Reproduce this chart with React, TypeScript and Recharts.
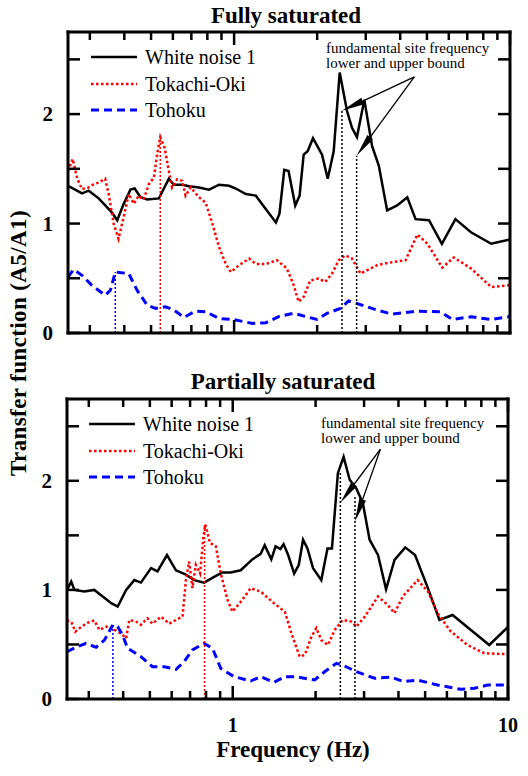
import React from "react"
import { LineChart, Line, XAxis, YAxis, ReferenceLine, Legend } from "recharts"

type Pair = [number, number]

const FONT = "'Liberation Serif', 'Times New Roman', serif"

const X_TICKS = [0.3, 0.4, 0.5, 0.6, 0.7, 0.8, 0.9, 1, 2, 3, 4, 5, 6, 7, 8, 9, 10]
const X_LABELS = [1, 10]
const Y_TICKS = [0, 0.5, 1, 1.5, 2, 2.5]
const Y_LABELS = [0, 1, 2]

const NAMES = ["White noise 1", "Tokachi-Oki", "Tohoku"]

// [frequency Hz, A5/A1]
const FULL_WN: Pair[] = [
  [0.25, 1.345], [0.281, 1.275], [0.297, 1.3], [0.323, 1.23], [0.361, 1.1], [0.377, 1.03],
  [0.398, 1.18], [0.421, 1.31], [0.436, 1.32], [0.458, 1.24], [0.484, 1.22], [0.534, 1.23],
  [0.58, 1.41], [0.605, 1.355], [0.649, 1.355], [0.686, 1.34], [0.746, 1.33], [0.811, 1.31],
  [0.882, 1.355], [0.959, 1.345], [1.014, 1.32], [1.103, 1.27], [1.199, 1.255], [1.304, 1.13],
  [1.418, 1.01], [1.46, 1.09], [1.52, 1.49], [1.575, 1.48], [1.666, 1.165], [1.727, 1.255],
  [1.787, 1.63], [1.847, 1.66], [1.932, 1.78], [2.083, 1.63], [2.184, 1.41], [2.296, 1.66],
  [2.414, 2.38], [2.565, 2.03], [2.675, 1.875], [2.788, 1.79], [2.965, 2.13], [3.162, 1.71],
  [3.345, 1.53], [3.587, 1.12], [3.9, 1.165], [4.243, 1.24], [4.547, 1.04], [5.086, 1.03],
  [5.664, 0.815], [6.34, 1.04], [7.22, 0.92], [8.55, 0.815], [10, 0.855],
]
const FULL_TO: Pair[] = [
  [0.25, 1.48], [0.26, 1.59], [0.27, 1.41], [0.281, 1.315], [0.297, 1.33], [0.31, 1.36],
  [0.323, 1.375], [0.341, 1.41], [0.351, 1.27], [0.366, 1.0], [0.381, 0.86], [0.398, 1.06],
  [0.415, 1.27], [0.433, 1.18], [0.451, 1.255], [0.47, 1.22], [0.491, 1.36], [0.512, 1.42],
  [0.526, 1.63], [0.54, 1.79], [0.56, 1.69], [0.58, 1.48], [0.596, 1.33], [0.622, 1.405],
  [0.649, 1.39], [0.667, 1.255], [0.696, 1.33], [0.746, 1.24], [0.789, 1.19], [0.834, 1.0],
  [0.882, 0.785], [0.933, 0.63], [0.973, 0.557], [1.043, 0.62], [1.134, 0.68], [1.199, 0.63],
  [1.304, 0.63], [1.43, 0.665], [1.553, 0.59], [1.643, 0.44], [1.713, 0.285], [1.787, 0.33],
  [1.888, 0.48], [2.025, 0.497], [2.14, 0.467], [2.265, 0.543], [2.394, 0.664], [2.53, 0.709],
  [2.675, 0.68], [2.871, 0.543], [3.3, 0.62], [3.79, 0.65], [4.18, 0.664], [4.62, 0.9],
  [5.02, 0.815], [5.68, 0.597], [6.26, 0.69], [7.22, 0.59], [8.55, 0.42], [10, 0.436],
]
const FULL_TH: Pair[] = [
  [0.25, 0.51], [0.262, 0.58], [0.281, 0.527], [0.305, 0.436], [0.341, 0.345], [0.356, 0.39],
  [0.371, 0.557], [0.415, 0.543], [0.445, 0.39], [0.484, 0.255], [0.519, 0.224], [0.564, 0.24],
  [0.605, 0.21], [0.658, 0.143], [0.725, 0.2], [0.789, 0.194], [0.882, 0.133], [0.986, 0.124],
  [1.166, 0.088], [1.304, 0.094], [1.45, 0.15], [1.64, 0.18], [1.996, 0.124], [2.17, 0.179],
  [2.426, 0.224], [2.6, 0.294], [2.788, 0.27], [3.3, 0.209], [3.73, 0.173], [4.62, 0.2],
  [5.6, 0.194], [6.18, 0.124], [7.22, 0.148], [8.55, 0.124], [10, 0.15],
]
const FULL_PEAK_TH: Pair = [0.371, 0.557]
const FULL_PEAK_TO: Pair = [0.54, 1.79]
const FULL_BOUNDS: Pair[] = [[2.46, 2.03], [2.78, 1.62]]
const FULL_TIPS: Pair[] = [[2.46, 2.03], [2.78, 1.62]]
const FULL_NOTE: Pair = [4.5, 2.34]

const PART_WN: Pair[] = [
  [0.25, 1.0], [0.259, 1.076], [0.266, 1.0], [0.289, 0.985], [0.314, 1.0], [0.337, 0.94],
  [0.362, 0.878], [0.382, 0.847], [0.41, 1.0], [0.439, 1.09], [0.464, 1.067], [0.505, 1.2],
  [0.533, 1.17], [0.577, 1.32], [0.622, 1.18], [0.676, 1.14], [0.724, 1.09], [0.787, 1.067],
  [0.856, 1.12], [0.918, 1.16], [0.983, 1.16], [1.069, 1.18], [1.178, 1.28], [1.263, 1.33],
  [1.306, 1.41], [1.381, 1.28], [1.431, 1.4], [1.49, 1.375], [1.53, 1.42], [1.59, 1.32],
  [1.672, 1.15], [1.738, 1.23], [1.801, 1.46], [1.868, 1.38], [1.958, 1.2], [2.098, 1.09],
  [2.209, 1.38], [2.293, 1.38], [2.41, 2.07], [2.528, 2.22], [2.66, 2.01], [2.812, 1.93],
  [2.97, 1.795], [3.142, 1.46], [3.371, 1.32], [3.606, 1.006], [3.871, 1.275], [4.234, 1.39],
  [4.596, 1.32], [5.116, 1.016], [5.635, 0.725], [6.29, 0.77], [7.33, 0.633], [8.55, 0.495],
  [10, 0.66],
]
const PART_TO: Pair[] = [
  [0.25, 0.72], [0.259, 0.71], [0.268, 0.617], [0.282, 0.663], [0.298, 0.7], [0.314, 0.72],
  [0.328, 0.633], [0.352, 0.67], [0.371, 0.636], [0.393, 0.6], [0.41, 0.557], [0.421, 0.725],
  [0.445, 0.71], [0.464, 0.68], [0.49, 0.74], [0.511, 0.69], [0.549, 0.755], [0.588, 0.69],
  [0.622, 0.725], [0.657, 0.755], [0.676, 1.09], [0.694, 1.26], [0.714, 1.016], [0.734, 1.23],
  [0.761, 1.15], [0.783, 1.49], [0.795, 1.6], [0.827, 1.43], [0.868, 1.4], [0.905, 1.15],
  [0.957, 0.91], [0.997, 0.8], [1.069, 0.89], [1.162, 1.016], [1.263, 0.985], [1.412, 0.878],
  [1.546, 0.8], [1.635, 0.6], [1.751, 0.388], [1.828, 0.404], [1.932, 0.572], [2.013, 0.65],
  [2.098, 0.54], [2.219, 0.495], [2.346, 0.633], [2.509, 0.725], [2.695, 0.71], [2.813, 0.663],
  [3.018, 0.755], [3.371, 0.94], [3.655, 0.862], [3.871, 0.787], [4.145, 0.94], [4.694, 1.09],
  [5.116, 0.985], [5.547, 0.787], [6.194, 0.62], [7.125, 0.495], [8.193, 0.42], [10, 0.41],
]
const PART_TH: Pair[] = [
  [0.25, 0.434], [0.273, 0.48], [0.293, 0.51], [0.319, 0.474], [0.342, 0.54], [0.367, 0.68],
  [0.382, 0.663], [0.398, 0.587], [0.415, 0.465], [0.464, 0.388], [0.511, 0.296], [0.564, 0.296],
  [0.622, 0.272], [0.666, 0.342], [0.714, 0.45], [0.787, 0.51], [0.844, 0.465], [0.905, 0.28],
  [1.011, 0.205], [1.162, 0.165], [1.263, 0.205], [1.412, 0.153], [1.546, 0.205], [1.682, 0.205],
  [1.985, 0.174], [2.156, 0.25], [2.381, 0.327], [2.548, 0.303], [2.813, 0.25], [3.273, 0.19],
  [3.763, 0.2], [4.175, 0.159], [4.694, 0.174], [5.547, 0.128], [6.733, 0.089], [7.546, 0.098],
  [8.428, 0.128], [10, 0.128],
]
const PART_PEAK_TH: Pair = [0.367, 0.68]
const PART_PEAK_TO: Pair = [0.79, 1.6]
const PART_BOUNDS: Pair[] = [[2.46, 2.09], [2.78, 1.86]]
const PART_TIPS: Pair[] = [[2.46, 1.8], [2.78, 1.63]]
const PART_NOTE: Pair = [3.44, 2.29]

const STYLE: Record<string, { stroke: string; strokeWidth: number; strokeDasharray?: string }> = {
  "White noise 1": { stroke: "#000", strokeWidth: 2.5 },
  "Tokachi-Oki": { stroke: "#ff0000", strokeWidth: 2.5, strokeDasharray: "2.5 2.5" },
  Tohoku: { stroke: "#0000ff", strokeWidth: 3, strokeDasharray: "8 5" },
}

const toPts = (arr: Pair[]) => arr.map(([f, v]) => ({ f, v }))

const yTick = (side: "left" | "right", labels: boolean) => (p: any) => {
  const { x, y, payload } = p
  const d = side === "left" ? 1 : -1
  return (
    <g>
      <line x1={x} y1={y} x2={x + d * 12} y2={y} stroke="#000" strokeWidth={2.5} />
      {labels && Y_LABELS.includes(payload.value) && (
        <text x={x - 15} y={y} textAnchor="end" dominantBaseline="central"
          fontFamily={FONT} fontWeight="bold" fontSize={21} fill="#000">
          {payload.value}
        </text>
      )}
    </g>
  )
}

const xTick = (side: "top" | "bottom", labels: boolean) => (p: any) => {
  const { x, y, payload } = p
  const major = X_LABELS.includes(payload.value)
  const len = major ? 13 : 8
  const d = side === "bottom" ? -1 : 1
  return (
    <g>
      <line x1={x} y1={y} x2={x} y2={y + d * len} stroke="#000" strokeWidth={2.5} />
      {labels && major && (
        <text x={x} y={y + 33} textAnchor="middle"
          fontFamily={FONT} fontWeight="bold" fontSize={20} fill="#000">
          {payload.value}
        </text>
      )}
    </g>
  )
}

const arrowShape = (p: any) => {
  const { x1, y1, x2, y2 } = p
  const dx = x2 - x1
  const dy = y2 - y1
  const len = Math.hypot(dx, dy) || 1
  const ux = dx / len
  const uy = dy / len
  const bx = x2 - ux * 23
  const by = y2 - uy * 23
  const hw = 3.5
  return (
    <g>
      <line x1={x1} y1={y1} x2={bx} y2={by} stroke="#000" strokeWidth={1.3} />
      <polygon
        points={`${x2},${y2} ${bx - uy * hw},${by + ux * hw} ${bx + uy * hw},${by - ux * hw}`}
        fill="#000"
      />
    </g>
  )
}

const legendContent = () => (
  <div style={{ fontFamily: FONT, fontSize: 20, color: "#000", lineHeight: "20px" }}>
    {NAMES.map((n) => (
      <div key={n} style={{ height: 26.5, display: "flex", alignItems: "center" }}>
        <svg width={48} height={6} style={{ marginRight: 7 }}>
          <line x1={1} y1={3} x2={47} y2={3} {...STYLE[n]} />
        </svg>
        <span style={{ fontFamily: FONT }}>{n}</span>
      </div>
    ))}
  </div>
)

type PanelProps = {
  wn: Pair[]
  to: Pair[]
  th: Pair[]
  peakTh: Pair
  peakTo: Pair
  bounds: Pair[]
  tips: Pair[]
  note: Pair
  top: number
  height: number
  margin: { top: number; right: number; bottom: number; left: number }
  xLabels: boolean
  legendLeft: number
}

// axes are 1px wide/high so they still render; margins are reduced by that 1px
function Panel(props: PanelProps) {
  const { wn, to, th, peakTh, peakTo, bounds, tips, note, top, height, margin, xLabels, legendLeft } = props
  const series: [string, Pair[]][] = [[NAMES[0], wn], [NAMES[1], to], [NAMES[2], th]]
  const frame = { stroke: "#000", strokeWidth: 3, strokeLinecap: "square" as const }
  return (
    <div style={{ position: "absolute", left: 0, top }}>
      <LineChart width={528} height={height} margin={margin}>
        <XAxis xAxisId="b" dataKey="f" type="number" scale="log" domain={[0.25, 10]} allowDataOverflow
          orientation="bottom" height={1} ticks={X_TICKS} interval={0} tickSize={0} tickMargin={0}
          tickLine={false} axisLine={frame} tick={xTick("bottom", xLabels)} />
        <XAxis xAxisId="t" dataKey="f" type="number" scale="log" domain={[0.25, 10]} allowDataOverflow
          orientation="top" height={1} ticks={X_TICKS} interval={0} tickSize={0} tickMargin={0}
          tickLine={false} axisLine={frame} tick={xTick("top", false)} />
        <YAxis yAxisId="l" type="number" domain={[0, 2.75]} allowDataOverflow width={1}
          ticks={Y_TICKS} interval={0} tickSize={0} tickMargin={0}
          tickLine={false} axisLine={frame} tick={yTick("left", true)} />
        <YAxis yAxisId="r" orientation="right" type="number" domain={[0, 2.75]} allowDataOverflow width={1}
          ticks={Y_TICKS} interval={0} tickSize={0} tickMargin={0}
          tickLine={false} axisLine={frame} tick={yTick("right", false)} />
        <Legend layout="vertical" align="center" verticalAlign="middle" content={legendContent}
          wrapperStyle={{ left: legendLeft, top: 44, width: 220, fontFamily: FONT }} />
        {series.map(([name, pts]) => (
          <Line key={name} xAxisId="b" yAxisId="l" data={toPts(pts)} dataKey="v" name={name}
            type="linear" dot={false} activeDot={false} isAnimationActive={false}
            {...STYLE[name]} />
        ))}
        <ReferenceLine xAxisId="b" yAxisId="l" stroke="#0000ff" strokeWidth={1.5} strokeDasharray="2 2"
          segment={[{ x: peakTh[0], y: 0 }, { x: peakTh[0], y: peakTh[1] }]} />
        <ReferenceLine xAxisId="b" yAxisId="l" stroke="#ff0000" strokeWidth={1.5} strokeDasharray="2 2"
          segment={[{ x: peakTo[0], y: 0 }, { x: peakTo[0], y: peakTo[1] }]} />
        {bounds.map(([f, v]) => (
          <ReferenceLine key={`b${f}`} xAxisId="b" yAxisId="l" stroke="#000" strokeWidth={1.5}
            strokeDasharray="2 2" segment={[{ x: f, y: 0 }, { x: f, y: v }]} />
        ))}
        {tips.map(([f, v]) => (
          <ReferenceLine key={`a${f}`} xAxisId="b" yAxisId="l" shape={arrowShape}
            segment={[{ x: note[0], y: note[1] }, { x: f, y: v }]} />
        ))}
      </LineChart>
    </div>
  )
}

export default function App() {
  const title = { fontFamily: FONT, fontWeight: "bold" as const, fontSize: 23, fill: "#000" }
  const note = { fontFamily: FONT, fontSize: 15, fill: "#000" }
  return (
    <div style={{ position: "absolute", left: 0, top: 0, width: 528, height: 776, background: "#fff" }}>
      <Panel wn={FULL_WN} to={FULL_TO} th={FULL_TH} peakTh={FULL_PEAK_TH} peakTo={FULL_PEAK_TO}
        bounds={FULL_BOUNDS} tips={FULL_TIPS} note={FULL_NOTE} top={0} height={360}
        margin={{ top: 31, right: 17, bottom: 26, left: 67 }} xLabels={false} legendLeft={90} />
      <Panel wn={PART_WN} to={PART_TO} th={PART_TH} peakTh={PART_PEAK_TH} peakTo={PART_PEAK_TO}
        bounds={PART_BOUNDS} tips={PART_TIPS} note={PART_NOTE} top={367} height={409}
        margin={{ top: 31, right: 19, bottom: 76, left: 66 }} xLabels={true} legendLeft={88} />
      <svg width={528} height={776} style={{ position: "absolute", left: 0, top: 0, pointerEvents: "none" }}>
        <text x={286} y={23} textAnchor="middle" {...title}>Fully saturated</text>
        <text x={283} y={389} textAnchor="middle" {...title}>Partially saturated</text>
        <text x={293} y={757} textAnchor="middle" {...title}>Frequency (Hz)</text>
        <text x={26} y={343} textAnchor="middle" transform="rotate(-90 26 343)" letterSpacing={0.4} {...title}>
          Transfer function (A5/A1)
        </text>
        <text x={326} y={53} {...note}>fundamental site frequency</text>
        <text x={326} y={68} {...note}>lower and upper bound</text>
        <text x={321} y={428} {...note}>fundamental site frequency</text>
        <text x={321} y={443} {...note}>lower and upper bound</text>
      </svg>
    </div>
  )
}
